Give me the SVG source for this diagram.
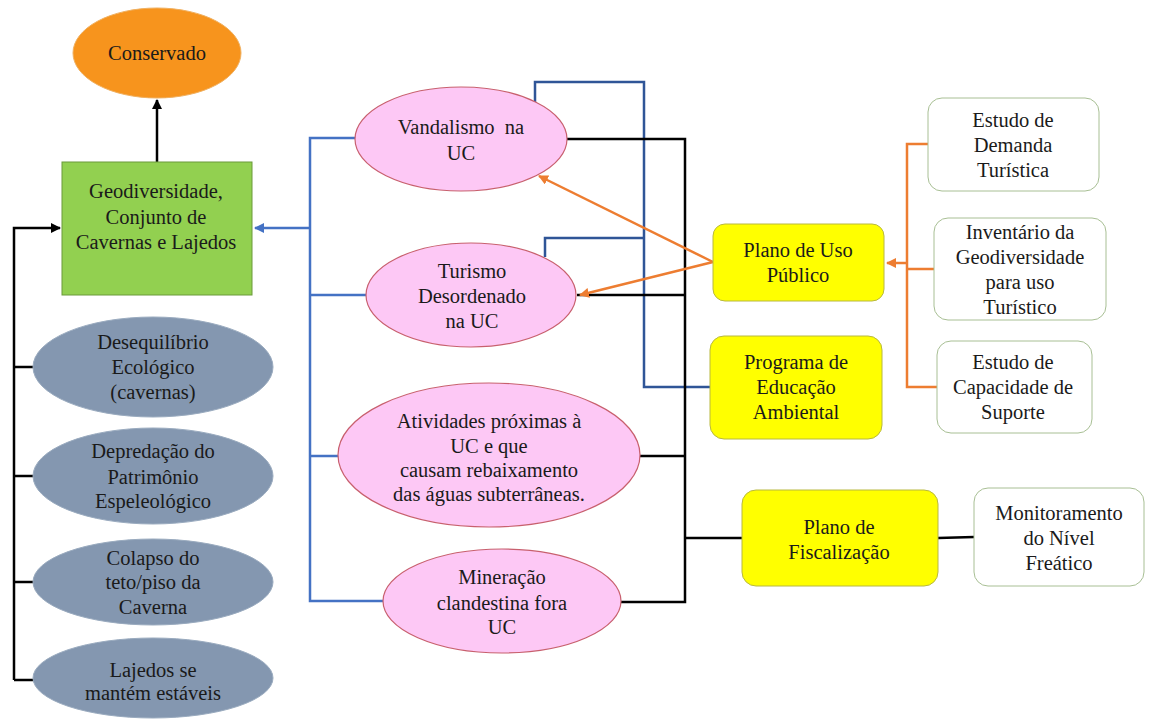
<svg xmlns="http://www.w3.org/2000/svg" width="1155" height="719" viewBox="0 0 1155 719" font-family="Liberation Serif, Times New Roman, serif" font-size="20.5">
<style>
text{fill:#1a1a1a;text-anchor:middle}
.pink{fill:#fdc8f5;stroke:#c8606e;stroke-width:1.2}
.gray{fill:#8497b0;stroke:#9aabbf;stroke-width:1}
.yel{fill:#ffff00;stroke:#b8b840;stroke-width:1}
.wht{fill:#ffffff;stroke:#a8bf94;stroke-width:1}
.blk{fill:none;stroke:#000;stroke-width:2.5}
.blu{fill:none;stroke:#4472c4;stroke-width:2.5}
.dblu{fill:none;stroke:#2f5597;stroke-width:2.5}
.org{fill:none;stroke:#ed7d31;stroke-width:2.5}
</style>
<defs>
<marker id="ab" viewBox="0 0 10 10" refX="9" refY="5" markerWidth="4" markerHeight="4" orient="auto"><path d="M0,0L10,5L0,10z" fill="#000"/></marker>
<marker id="abl" viewBox="0 0 10 10" refX="9" refY="5" markerWidth="4" markerHeight="4" orient="auto"><path d="M0,0L10,5L0,10z" fill="#4472c4"/></marker>
<marker id="ao" viewBox="0 0 10 10" refX="9" refY="5" markerWidth="4" markerHeight="4" orient="auto"><path d="M0,0L10,5L0,10z" fill="#ed7d31"/></marker>
</defs>
<rect width="1155" height="719" fill="#fff"/>
<g id="connectors">
<path class="blk" d="M157,162V100" marker-end="url(#ab)"/>
<path class="blk" d="M14,680V228H60" marker-end="url(#ab)"/>
<path class="blk" d="M14,367H34M14,476H34M14,582H34M14,680H34"/>
<path class="blu" d="M310,228H255" marker-end="url(#abl)"/>
<path class="blu" d="M356,138H310V601H384M310,295H367M310,456H339"/>
<path class="dblu" d="M535,102V82H644V387H710M545,257V238H644"/>
<path class="blk" d="M567,139H685V602H621M577,295H685M640,456H685M685,538H742M938,538L974,537"/>
<path class="org" d="M713,262L539,176" marker-end="url(#ao)"/>
<path class="org" d="M713,262L580,295" marker-end="url(#ao)"/>
<path class="org" d="M928,144H907V387H937M907,269H934"/>
<path class="org" d="M907,263H887" marker-end="url(#ao)"/>
</g>
<g id="conservado"><ellipse cx="157" cy="53" rx="84" ry="45" fill="#f7941d" stroke="#f0b060" stroke-width="1"/><text x="157" y="60">Conservado</text></g>
<g id="geodiversidade"><rect x="62" y="162" width="190" height="133" fill="#92d050" stroke="#6a9a3a" stroke-width="1"/><text x="156" y="198">Geodiversidade,</text><text x="156" y="224">Conjunto de</text><text x="156" y="249">Cavernas e Lajedos</text></g>
<g id="desequilibrio"><ellipse class="gray" cx="153" cy="367" rx="120" ry="50"/><text x="153" y="349">Desequilíbrio</text><text x="153" y="374">Ecológico</text><text x="153" y="399">(cavernas)</text></g>
<g id="depredacao"><ellipse class="gray" cx="153" cy="476" rx="120" ry="48"/><text x="153" y="458">Depredação do</text><text x="153" y="484">Patrimônio</text><text x="153" y="508">Espeleológico</text></g>
<g id="colapso"><ellipse class="gray" cx="153" cy="582" rx="120" ry="43"/><text x="153" y="565">Colapso do</text><text x="153" y="589">teto/piso da</text><text x="153" y="614">Caverna</text></g>
<g id="lajedos"><ellipse class="gray" cx="153" cy="678" rx="120" ry="40"/><text x="153" y="677">Lajedos se</text><text x="153" y="700">mantém estáveis</text></g>
<g id="vandalismo"><ellipse class="pink" cx="461" cy="139" rx="106" ry="52"/><text x="461" y="134" xml:space="preserve">Vandalismo  na</text><text x="461" y="160">UC</text></g>
<g id="turismo"><ellipse class="pink" cx="471" cy="295" rx="105" ry="52"/><text x="472" y="278">Turismo</text><text x="472" y="303">Desordenado</text><text x="472" y="328">na UC</text></g>
<g id="atividades"><ellipse class="pink" cx="489" cy="455" rx="151" ry="72"/><text x="489" y="428">Atividades próximas à</text><text x="489" y="453">UC e que</text><text x="489" y="477">causam rebaixamento</text><text x="489" y="501">das águas subterrâneas.</text></g>
<g id="mineracao"><ellipse class="pink" cx="502" cy="601" rx="119" ry="52"/><text x="502" y="584">Mineração</text><text x="502" y="610">clandestina fora</text><text x="502" y="634">UC</text></g>
<g id="plano-uso"><rect class="yel" x="713" y="224" width="171" height="77" rx="12"/><text x="798" y="257">Plano de Uso</text><text x="798" y="282">Público</text></g>
<g id="programa"><rect class="yel" x="710" y="336" width="172" height="103" rx="14"/><text x="796" y="369">Programa de</text><text x="796" y="394">Educação</text><text x="796" y="419">Ambiental</text></g>
<g id="fiscalizacao"><rect class="yel" x="742" y="490" width="196" height="96" rx="14"/><text x="839" y="534">Plano de</text><text x="839" y="559">Fiscalização</text></g>
<g id="demanda"><rect class="wht" x="928" y="98" width="171" height="93" rx="14"/><text x="1013" y="127">Estudo de</text><text x="1013" y="152">Demanda</text><text x="1013" y="177">Turística</text></g>
<g id="inventario"><rect class="wht" x="934" y="218" width="172" height="102" rx="14"/><text x="1020" y="239">Inventário da</text><text x="1020" y="264">Geodiversidade</text><text x="1020" y="289">para uso</text><text x="1020" y="314">Turístico</text></g>
<g id="capacidade"><rect class="wht" x="937" y="341" width="155" height="92" rx="14"/><text x="1013" y="369">Estudo de</text><text x="1013" y="394">Capacidade de</text><text x="1013" y="419">Suporte</text></g>
<g id="monitoramento"><rect class="wht" x="974" y="488" width="170" height="98" rx="14"/><text x="1059" y="520">Monitoramento</text><text x="1059" y="545">do Nível</text><text x="1059" y="570">Freático</text></g>
</svg>
